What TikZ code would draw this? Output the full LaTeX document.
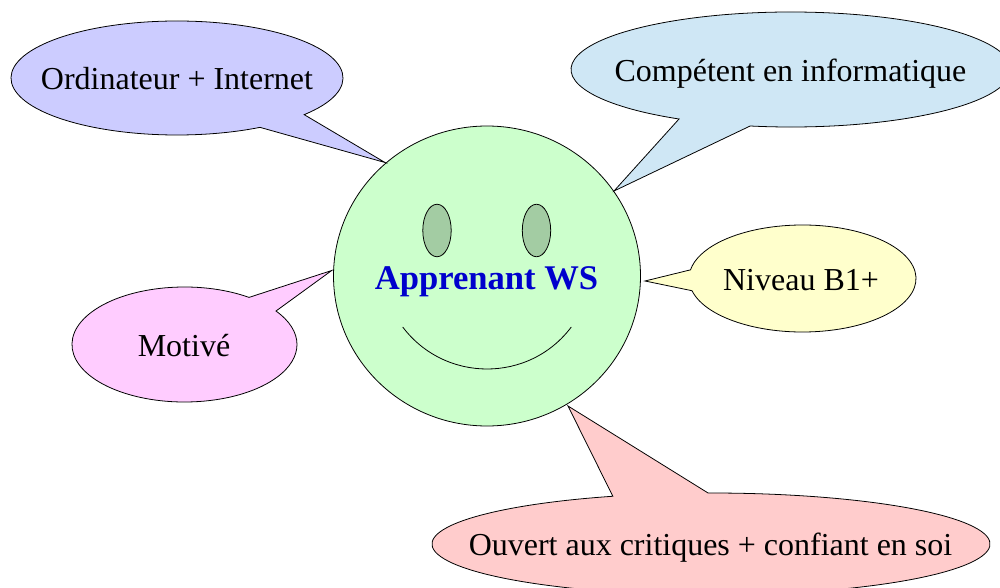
\documentclass[tikz,border=0pt]{standalone}
\usepackage{fontspec}
\setmainfont{Liberation Serif}
\definecolor{bubbleblue}{HTML}{CCCCFF}
\definecolor{bubblesky}{HTML}{CFE7F5}
\definecolor{bubbleyellow}{HTML}{FFFFCC}
\definecolor{bubblepink}{HTML}{FFCCFF}
\definecolor{bubblered}{HTML}{FFCCCC}
\definecolor{facegreen}{HTML}{CCFFCC}
\definecolor{eyegreen}{HTML}{A3CCA3}
\definecolor{namblue}{HTML}{0000CC}
\tikzset{
	outline/.style={draw=black, line width=0.45pt, line join=miter},
	bubbletext/.style={font=\fontsize{18.2}{20}\selectfont, anchor=base, inner sep=0pt}
}

\begin{document}
\begin{tikzpicture}
	\useasboundingbox (0,0) rectangle (20,11.74);
	\clip (0,0) rectangle (20,11.74);

	% face
	\draw[outline, fill=facegreen] (9.74,6.22) ellipse [x radius=3.07, y radius=3.0];
	\draw[outline, fill=eyegreen] (8.74,7.13) ellipse [x radius=0.284, y radius=0.525];
	\draw[outline, fill=eyegreen] (10.73,7.13) ellipse [x radius=0.284, y radius=0.525];
	\coordinate (smileleft) at (8.054,5.2);
	\coordinate (smileright) at (11.426,5.2);
	\draw[outline] (smileleft) .. controls (8.90,4.08) and (10.586,4.08) .. (smileright);
	\node[font=\fontsize{19.7}{22}\selectfont\bfseries, text=namblue, anchor=base, inner sep=0pt] (apprenant) at (9.73,5.96) {Apprenant WS};

	% bubbles
	\coordinate (ordinateurc) at (3.54,10.18);
	\coordinate (ordinateurtip) at (7.70,8.49);
	\draw[outline, fill=bubbleblue] (ordinateurtip) -- ([shift={(-40:3.32 and 1.14)}]ordinateurc) arc [start angle=-40, end angle=300, x radius=3.32, y radius=1.14] -- cycle;
	\node[bubbletext] (ordinateur) at (3.54,9.94) {Ordinateur + Internet};

	\coordinate (competentc) at (15.82,10.35);
	\coordinate (competenttip) at (12.28,7.92);
	\draw[outline, fill=bubblesky] (competenttip) -- ([shift={(259.3:4.4 and 1.15)}]competentc) arc [start angle=259.3, end angle=599.4, x radius=4.4, y radius=1.15] -- cycle;
	\node[bubbletext] (competent) at (15.81,10.1) {Compétent en informatique};

	\coordinate (niveauc) at (16.05,6.17);
	\coordinate (niveautip) at (12.90,6.12);
	\draw[outline, fill=bubbleyellow] (niveautip) -- ([shift={(193.2:2.27 and 1.07)}]niveauc) arc [start angle=193.2, end angle=530.7, x radius=2.27, y radius=1.07] -- cycle;
	\node[bubbletext] (niveau) at (16.02,5.94) {Niveau B1+};

	\coordinate (motivec) at (3.69,4.85);
	\coordinate (motivetip) at (6.634,6.33);
	\draw[outline, fill=bubblepink] (motivetip) -- ([shift={(55:2.25 and 1.15)}]motivec) arc [start angle=55, end angle=395.6, x radius=2.25, y radius=1.15] -- cycle;
	\node[bubbletext] (motive) at (3.68,4.62) {Motivé};

	\coordinate (ouvertc) at (14.22,0.86);
	\coordinate (ouverttip) at (11.36,3.62);
	\draw[outline, fill=bubblered] (ouverttip) -- ([shift={(110.6:5.58 and 1.02)}]ouvertc) arc [start angle=110.6, end angle=450.6, x radius=5.58, y radius=1.02] -- cycle;
	\node[bubbletext] (ouvert) at (14.21,0.64) {Ouvert aux critiques + confiant en soi};
\end{tikzpicture}
\end{document}
